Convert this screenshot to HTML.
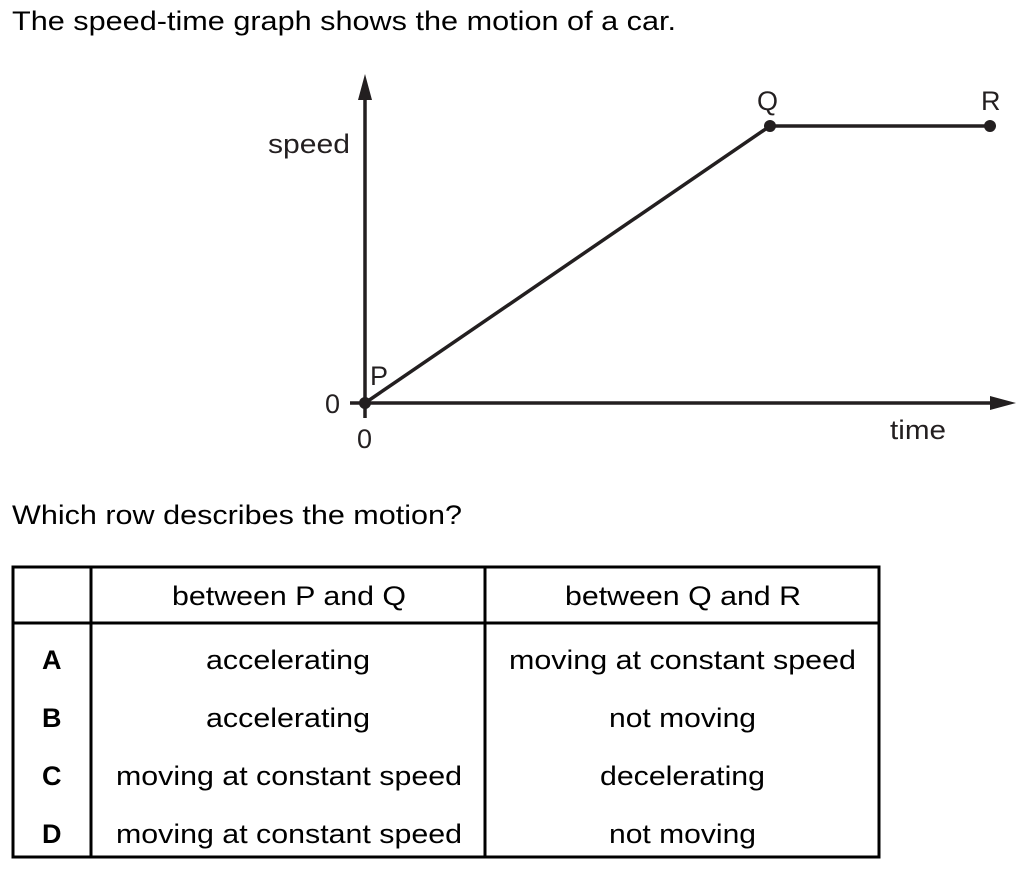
<!DOCTYPE html>
<html><head><meta charset="utf-8"><style>
body{margin:0;background:#fff;}
svg{display:block;font-family:"Liberation Sans",Arial,sans-serif;}
</style></head><body>
<svg width="1025" height="871" viewBox="0 0 1025 871">
<text x="12" y="30" font-size="27" fill="#000" textLength="664" lengthAdjust="spacingAndGlyphs">The speed-time graph shows the motion of a car.</text>
<g stroke="#231f20" stroke-width="3.5" fill="none">
<line x1="365" y1="403" x2="365" y2="95"/>
<line x1="365" y1="403" x2="995" y2="403"/>
<line x1="350" y1="403" x2="365" y2="403"/>
<line x1="365" y1="403" x2="365" y2="418"/>
<line x1="365" y1="403" x2="770" y2="126"/>
<line x1="770" y1="126" x2="990" y2="126"/>
</g>
<polygon points="365,74 358,100 372,100" fill="#231f20"/>
<polygon points="1016,403 990,396 990,410" fill="#231f20"/>
<circle cx="365" cy="403" r="6" fill="#231f20"/>
<circle cx="770" cy="126" r="6" fill="#231f20"/>
<circle cx="990" cy="126" r="6" fill="#231f20"/>
<g font-size="27" fill="#231f20">
<text x="268" y="153" textLength="82" lengthAdjust="spacingAndGlyphs">speed</text>
<text x="890" y="439" textLength="56" lengthAdjust="spacingAndGlyphs">time</text>
<text x="325" y="413">0</text>
<text x="357" y="448">0</text>
<text x="370" y="385">P</text>
<text x="757" y="110">Q</text>
<text x="981" y="110">R</text>
</g>
<text x="12" y="524" font-size="27" textLength="450" lengthAdjust="spacingAndGlyphs">Which row describes the motion?</text>
<g stroke="#000" stroke-width="3" fill="none">
<rect x="13" y="567" width="866" height="290"/>
<line x1="13" y1="623" x2="879" y2="623"/>
<line x1="91" y1="567" x2="91" y2="857"/>
<line x1="485" y1="567" x2="485" y2="857"/>
</g>
<g font-size="27" lengthAdjust="spacingAndGlyphs">
<text x="172" y="605" textLength="234" lengthAdjust="spacingAndGlyphs">between P and Q</text>
<text x="565" y="605" textLength="236" lengthAdjust="spacingAndGlyphs">between Q and R</text>
<text x="42" y="669" font-weight="bold">A</text>
<text x="42" y="727" font-weight="bold">B</text>
<text x="42" y="785" font-weight="bold">C</text>
<text x="42" y="843" font-weight="bold">D</text>
<text x="206" y="669" textLength="164" lengthAdjust="spacingAndGlyphs">accelerating</text>
<text x="206" y="727" textLength="164" lengthAdjust="spacingAndGlyphs">accelerating</text>
<text x="116" y="785" textLength="346" lengthAdjust="spacingAndGlyphs">moving at constant speed</text>
<text x="116" y="843" textLength="346" lengthAdjust="spacingAndGlyphs">moving at constant speed</text>
<text x="509" y="669" textLength="347" lengthAdjust="spacingAndGlyphs">moving at constant speed</text>
<text x="609" y="727" textLength="147" lengthAdjust="spacingAndGlyphs">not moving</text>
<text x="600" y="785" textLength="165" lengthAdjust="spacingAndGlyphs">decelerating</text>
<text x="609" y="843" textLength="147" lengthAdjust="spacingAndGlyphs">not moving</text>
</g>
</svg>
</body></html>
